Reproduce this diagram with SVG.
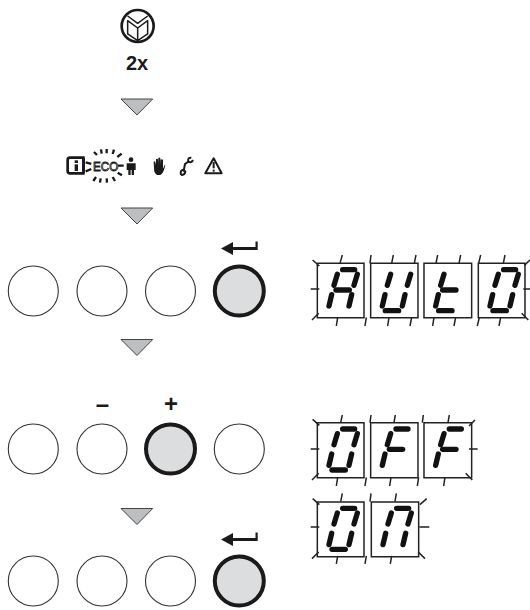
<svg xmlns="http://www.w3.org/2000/svg" width="530" height="610" viewBox="0 0 530 610">
<style>
.b{fill:#fff;stroke:#333;stroke-width:1.1}
.a{fill:#dcddde;stroke:#1a1a1a;stroke-width:4}
.t{fill:#bcbec0;stroke:#444;stroke-width:1}
.box{fill:none;stroke:#222;stroke-width:4.500}
.tk{fill:none;stroke:#222;stroke-width:4.500}
.s{fill:none;stroke:#111;stroke-width:16;stroke-linecap:round}
.lab{font-family:"Liberation Sans",Arial,sans-serif;font-weight:bold;fill:#1a1a1a;text-anchor:middle}
.ic{fill:#1a1a1a;stroke:none}
.il{fill:none;stroke:#1a1a1a;stroke-width:7}
</style>
<defs>
<polygon id="tri" class="t" points="121,0 152.7,0 137,16"/>
<path id="ret" class="ic" d="M221,0L233,-6.5V-1.5H255.500V-7H257.700V1.500H233V6.500Z"/>
<line id="sa" class="s" x1="76" y1="19" x2="112" y2="19"/>
<line id="sb" class="s" x1="120" y1="33" x2="110" y2="66"/>
<line id="sc" class="s" x1="103" y1="94" x2="95" y2="128"/>
<line id="sd" class="s" x1="44" y1="142" x2="84" y2="142"/>
<line id="se" class="s" x1="43" y1="94" x2="35" y2="128"/>
<line id="sf" class="s" x1="60" y1="33" x2="50" y2="66"/>
<line id="sg" class="s" x1="56" y1="80" x2="96" y2="80"/>
<g id="dA"><use href="#sa"/><use href="#sb"/><use href="#sc"/><use href="#se"/><use href="#sf"/><use href="#sg"/></g>
<g id="dU"><use href="#sb"/><use href="#sc"/><use href="#sd"/><use href="#se"/><use href="#sf"/></g>
<g id="dt"><use href="#sd"/><use href="#se"/><use href="#sf"/><use href="#sg"/></g>
<g id="dO"><use href="#sa"/><use href="#sb"/><use href="#sc"/><use href="#sd"/><use href="#se"/><use href="#sf"/></g>
<g id="dF"><use href="#sa"/><use href="#se"/><use href="#sf"/><use href="#sg"/></g>
<g id="dn"><use href="#sa"/><use href="#sb"/><use href="#sc"/><use href="#se"/><use href="#sf"/></g>
</defs>

<g id="book-icon" transform="translate(50,0) scale(.3333)">
<circle cx="263" cy="78" r="48" fill="#fff" stroke="#1a1a1a" stroke-width="8"/>
<path d="M233,48L263,70L293,48M233,62L263,84L293,62V102L263,122L233,102ZM263,84V122" fill="none" stroke="#1a1a1a" stroke-width="4.500" stroke-linejoin="round"/>
</g>
<g id="label-2x"><text class="lab" x="137" y="70" font-size="20">2x</text></g>

<g id="connectors">
<use href="#tri" y="99"/>
<use href="#tri" y="208"/>
<use href="#tri" y="339.500"/>
<use href="#tri" y="508.500"/>
</g>

<g id="status-icons" transform="translate(50,0) scale(.3333)">
<path d="M104,473H60Q53,473 53,480V513Q53,520 60,520H104" fill="none" stroke="#1a1a1a" stroke-width="8"/>
<rect x="74" y="481" width="10" height="8" class="ic"/><rect x="74" y="493" width="10" height="20" class="ic"/>
<rect x="96" y="473" width="9" height="47" class="ic"/>
<text x="167" y="512" font-family="Liberation Sans,Arial,sans-serif" font-size="36" fill="#fff" stroke="#1a1a1a" stroke-width="2.500" text-anchor="middle" textLength="76" lengthAdjust="spacingAndGlyphs">ECO</text>
<path class="il" d="M132,456L141,465M153,448L155,461M170,447V460M192,449L188,462M215,461L202,471M107,487L124,492M107,514L124,507M204,497H221M130,543L138,531M150,548L152,535M171,548L170,535M195,543L188,531M216,526L203,518"/>
<g id="person"><circle class="ic" cx="243" cy="479" r="7"/><path class="ic" d="M230,490H257V510H252V525H245V510H242V525H235V510H230Z"/></g>
<g id="hand"><path class="ic" d="M311,485Q314,482 316,486L318,495V478Q321,474 324,478L325,493V474Q329,471 331,475L332,494V479Q336,476 339,480V506L344,495Q347,492 345,499Q341,520 331,525H321Q312,520 312,505Z"/></g>
<g id="wrench"><path d="M424,473Q412,472 415,485L405,492L402,508L394,512Q389,522 396,525Q405,524 406,514L399,512M415,485Q424,490 429,480" fill="none" stroke="#1a1a1a" stroke-width="6" stroke-linejoin="round"/></g>
<g id="warning"><path d="M491,475L515,520H466Z" fill="#fff" stroke="#1a1a1a" stroke-width="6" stroke-linejoin="round"/><rect x="488" y="486" width="6" height="19" class="ic"/><rect x="488" y="509" width="6" height="6" class="ic"/></g>
</g>

<g id="row1">
<circle class="b" cx="33.300" cy="291" r="25"/><circle class="b" cx="102" cy="291" r="25"/><circle class="b" cx="170.500" cy="291" r="25"/><circle class="a" cx="239.300" cy="291" r="24.500"/>
<use href="#ret" y="248.500"/>
</g>
<g id="row2">
<circle class="b" cx="33.300" cy="449" r="25"/><circle class="b" cx="102" cy="449" r="25"/><circle class="a" cx="170.500" cy="449" r="24.500"/><circle class="b" cx="239.300" cy="449" r="25"/>
<text class="lab" x="102.500" y="412" font-size="24">–</text>
<text class="lab" x="171" y="412" font-size="24">+</text>
</g>
<g id="row3">
<circle class="b" cx="33.300" cy="581" r="25"/><circle class="b" cx="102" cy="581" r="25"/><circle class="b" cx="170.500" cy="581" r="25"/><circle class="a" cx="239.300" cy="581" r="24.500"/>
<use href="#ret" y="539.500"/>
</g>

<g id="display-auto" transform="translate(290,240) scale(.3333)" aria-label="AUtO">
<path class="box" d="M82,70H222V233H82ZM242,70H384V233H242ZM402,70H545V233H402ZM565,70H705V233H565Z"/>
<path class="tk" d="M68,60L88,78M157,45L150,70M62,147H88M66,240L86,220M143,232L139,258M229,232L225,258M243,45L240,70M310,45L305,70M378,45L373,70M297,232L293,258M365,232L360,258M443,45L438,70M512,45L507,70M432,232L428,258M497,232L492,258M572,45L566,70M645,45L640,70M720,60L703,76M700,147H722M568,232L562,258M632,232L627,258M695,220L715,240"/>
<use href="#dA" x="82" y="70"/><use href="#dU" x="242" y="70"/><use href="#dt" x="402" y="70"/><use href="#dO" x="565" y="70"/>
</g>

<g id="display-off" transform="translate(290,400) scale(.3333)" aria-label="OFF">
<path class="box" d="M82,68H222V233H82ZM242,68H384V233H242ZM402,68H545V233H402Z"/>
<path class="tk" d="M68,58L88,76M157,45L152,68M62,147H88M66,240L86,220M143,232L139,258M229,232L225,258M243,45L240,68M316,45L312,68M303,232L299,258M386,232L382,258M400,45L397,68M478,45L474,68M555,60L537,78M537,147H563M465,232L461,258M527,220L547,240"/>
<use href="#dO" x="82" y="68"/><use href="#dF" x="242" y="68"/><use href="#dF" x="402" y="68"/>
</g>

<g id="display-on" transform="translate(290,400) scale(.3333)" aria-label="On">
<path class="box" d="M82,306H222V470H82ZM244,306H386V470H244Z"/>
<path class="tk" d="M68,296L88,314M157,280L152,305M62,381H88M66,476L86,456M143,468L139,492M229,468L225,492M243,280L240,305M319,280L315,305M410,296L390,314M388,381H418M305,468L301,492M385,456L405,476"/>
<use href="#dO" x="82" y="306"/><use href="#dn" x="244" y="306"/>
</g>
</svg>
